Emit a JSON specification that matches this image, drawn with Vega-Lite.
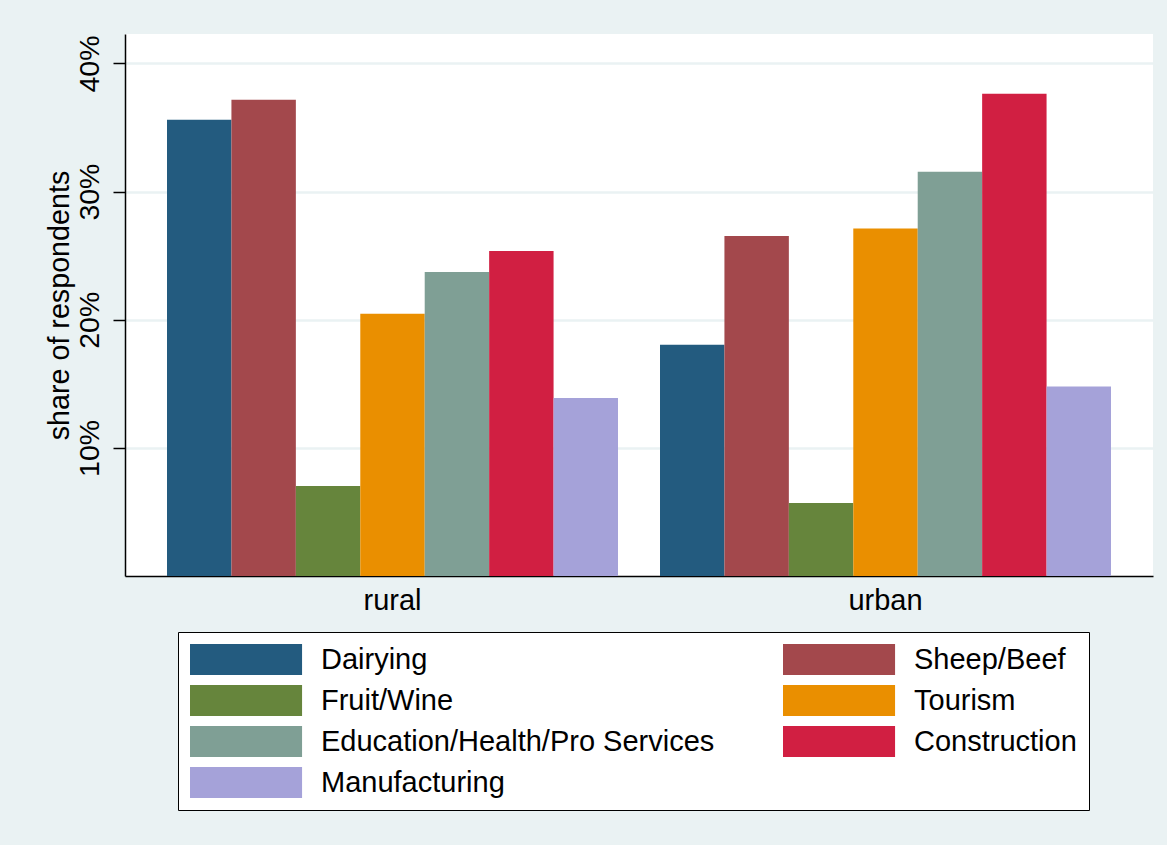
{
  "$schema": "https://vega.github.io/schema/vega-lite/v6.json",
  "width": 1028,
  "height": 542,
  "autosize": {"type": "none"},
  "padding": {"left": 125, "top": 34, "right": 14, "bottom": 269},
  "background": "#EAF2F3",
  "config": {
    "font": "Liberation Sans",
    "view": {"fill": "white", "stroke": null}
  },
  "data": {
    "values": [
      {"area": "rural", "industry": "Dairying", "share": 35.6},
      {"area": "rural", "industry": "Sheep/Beef", "share": 37.16},
      {"area": "rural", "industry": "Fruit/Wine", "share": 7.03},
      {"area": "rural", "industry": "Tourism", "share": 20.47},
      {"area": "rural", "industry": "Education/Health/Pro Services", "share": 23.73},
      {"area": "rural", "industry": "Construction", "share": 25.37},
      {"area": "rural", "industry": "Manufacturing", "share": 13.9},
      {"area": "urban", "industry": "Dairying", "share": 18.05},
      {"area": "urban", "industry": "Sheep/Beef", "share": 26.54},
      {"area": "urban", "industry": "Fruit/Wine", "share": 5.7},
      {"area": "urban", "industry": "Tourism", "share": 27.13},
      {"area": "urban", "industry": "Education/Health/Pro Services", "share": 31.54},
      {"area": "urban", "industry": "Construction", "share": 37.63},
      {"area": "urban", "industry": "Manufacturing", "share": 14.79}
    ]
  },
  "mark": {"type": "bar"},
  "encoding": {
    "x": {
      "field": "area",
      "type": "nominal",
      "scale": {"paddingInner": 0.0852, "paddingOuter": 0.0852},
      "axis": {
        "title": null,
        "labelAngle": 0,
        "labelFontSize": 29,
        "labelColor": "black",
        "labelPadding": 10,
        "ticks": false,
        "domainColor": "black",
        "domainWidth": 1.5
      }
    },
    "xOffset": {
      "field": "industry",
      "type": "nominal",
      "sort": ["Dairying", "Sheep/Beef", "Fruit/Wine", "Tourism", "Education/Health/Pro Services", "Construction", "Manufacturing"],
      "scale": {"paddingInner": 0, "paddingOuter": 0}
    },
    "y": {
      "field": "share",
      "type": "quantitative",
      "scale": {"domain": [0, 42.3], "nice": false},
      "axis": {
        "title": "share of respondents",
        "titleFontSize": 28.7,
        "titleFontWeight": "normal",
        "titleColor": "black",
        "titlePadding": 1,
        "values": [10, 20, 30, 40],
        "labelExpr": "datum.value + '%'",
        "labelAngle": -90,
        "labelFontSize": 28.5,
        "labelColor": "black",
        "labelPadding": 9,
        "tickSize": 12,
        "tickColor": "black",
        "tickWidth": 1.5,
        "domainColor": "black",
        "domainWidth": 1.5,
        "gridColor": "#EAF2F3",
        "gridWidth": 2.5
      }
    },
    "color": {
      "field": "industry",
      "type": "nominal",
      "sort": ["Dairying", "Sheep/Beef", "Fruit/Wine", "Tourism", "Education/Health/Pro Services", "Construction", "Manufacturing"],
      "scale": {
        "domain": ["Dairying", "Sheep/Beef", "Fruit/Wine", "Tourism", "Education/Health/Pro Services", "Construction", "Manufacturing"],
        "range": ["#235B7F", "#A3484C", "#66853C", "#EA8F00", "#7F9F95", "#D11F42", "#A5A2D9"]
      },
      "legend": {
        "title": null,
        "orient": "none",
        "legendX": 53,
        "legendY": 598,
        "direction": "horizontal",
        "columns": 2,
        "columnPadding": 68,
        "rowPadding": 10,
        "fillColor": "white",
        "strokeColor": "black",
        "padding": 12,
        "symbolType": "M-1,-1H6.23V1H-1Z",
        "symbolSize": 961,
        "symbolOpacity": 1,
        "symbolStrokeWidth": 0,
        "labelFontSize": 29,
        "labelColor": "black",
        "labelOffset": 100,
        "labelLimit": 600
      }
    }
  }
}
